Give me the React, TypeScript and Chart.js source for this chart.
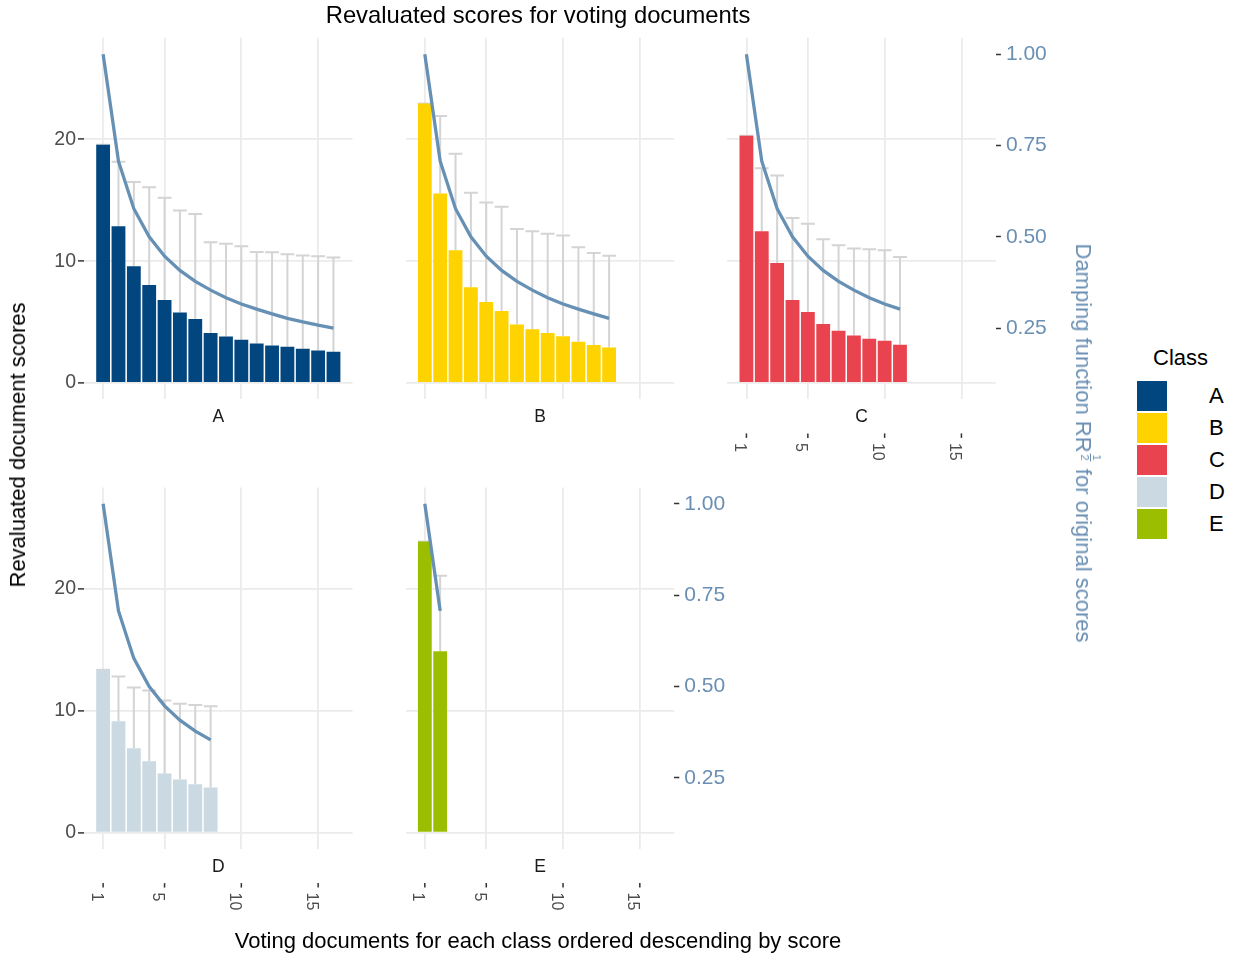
import React, { useEffect, useRef } from "react";
import { Chart, registerables } from "chart.js";

Chart.register(...registerables);

const FONT = '"Liberation Sans", Arial, Helvetica, sans-serif';

// Classes and their fill colours
const classNames = ["A", "B", "C", "D", "E"];
const classColors = ["#02467f", "#ffd300", "#e8434e", "#cbd9e2", "#9bbf00"];

// Revaluated document scores (bar heights), ordered by rank
const scoresA = [19.56, 12.86, 9.59, 8.04, 6.81, 5.78, 5.26, 4.11, 3.81, 3.54, 3.24, 3.08, 2.97, 2.81, 2.67, 2.56];
const scoresB = [22.94, 15.56, 10.9, 7.85, 6.65, 5.91, 4.8, 4.41, 4.11, 3.84, 3.38, 3.11, 2.92];
const scoresC = [20.3, 12.45, 9.84, 6.81, 5.83, 4.85, 4.28, 3.9, 3.62, 3.46, 3.13];
const scoresD = [13.37, 9.14, 6.93, 5.87, 4.86, 4.37, 3.98, 3.71];
const scoresE = [23.9, 14.9];

// Original scores (top of the grey whiskers)
const originalA = [19.56, 18.17, 16.51, 16.08, 15.2, 14.17, 13.87, 11.55, 11.44, 11.23, 10.76, 10.74, 10.57, 10.46, 10.41, 10.3];
const originalB = [22.94, 21.93, 18.83, 15.61, 14.82, 14.47, 12.64, 12.45, 12.26, 12.1, 11.14, 10.68, 10.44];
const originalC = [20.3, 17.63, 17.03, 13.54, 13.08, 11.8, 11.31, 11.04, 10.98, 10.9, 10.35];
const originalD = [13.37, 12.82, 11.92, 11.68, 10.86, 10.59, 10.48, 10.37];
const originalE = [23.9, 21.09];

// Damping factor per rank (secondary axis)
const damping = [1.0, 0.707, 0.577, 0.5, 0.447, 0.408, 0.378, 0.354, 0.333, 0.316, 0.302, 0.289, 0.277, 0.267, 0.258, 0.25];

// Axis ticks and ranges
const xTicks = [1, 5, 10, 15];
const yTicks = [0, 10, 20];
const dampTicks = [0.25, 0.5, 0.75, 1.0];
const X_MIN = -0.245;
const X_MAX = 17.245;
const Y_MIN = -1.35;
const Y_MAX = 28.35;
// secondary axis: damping = (score + SEC_SHIFT) / SEC_SCALE
const SEC_SCALE = 30;
const SEC_SHIFT = 3;

const LINE_COLOR = "#6690b4";
const SEC_TEXT = "#6a8fb3";
const GRID = "#ebebeb";
const WHISKER = "#d4d4d4";

const PANEL_W = 268.6;
const PANEL_H = 361.7;
const CANVAS_W = 420;
const CANVAS_H = 470;

type PanelProps = {
  name: string;
  scores: number[];
  original: number[];
  color: string;
  left: number;
  top: number;
  showLeft: boolean;
  showRight: boolean;
  showX: boolean;
};

function Panel(p: PanelProps) {
  const ref = useRef<HTMLCanvasElement>(null);
  const canvasLeft = Math.floor(p.left - 70);
  const canvasTop = Math.floor(p.top - 20);

  useEffect(() => {
    const canvas = ref.current!;
    const padL = p.left - canvasLeft;
    const padT = p.top - canvasTop;
    const padR = CANVAS_W - padL - PANEL_W;
    const padB = CANVAS_H - padT - PANEL_H;

    const decor = {
      id: "panelDecor",
      // whiskers sit beneath the bars, the damping line above both
      beforeDatasetDraw(chart: any, args: any) {
        if (args.index !== 0) return;
        const ctx = chart.ctx;
        const xs = chart.scales.x;
        const ys = chart.scales.y;
        const half = (xs.getPixelForValue(1.45) - xs.getPixelForValue(0.55)) / 2;
        ctx.save();
        ctx.strokeStyle = WHISKER;
        ctx.lineWidth = 2;
        p.original.forEach((o, i) => {
          const x = xs.getPixelForValue(i + 1);
          const y0 = ys.getPixelForValue(p.scores[i]);
          const y1 = ys.getPixelForValue(o);
          ctx.beginPath();
          ctx.moveTo(x, y0);
          ctx.lineTo(x, y1);
          ctx.moveTo(x - half, y1);
          ctx.lineTo(x + half, y1);
          ctx.stroke();
        });
        ctx.restore();
      },
      afterDraw(chart: any) {
        const ctx = chart.ctx;
        const area = chart.chartArea;
        const xs = chart.scales.x;
        ctx.save();
        ctx.fillStyle = "#1a1a1a";
        ctx.font = `17.5px ${FONT}`;
        ctx.textAlign = "center";
        ctx.textBaseline = "middle";
        ctx.fillText(p.name, (area.left + area.right) / 2, area.bottom + 18);
        if (p.showX) {
          ctx.strokeStyle = "#333333";
          ctx.lineWidth = 1.5;
          ctx.fillStyle = "#4d4d4d";
          ctx.font = `16px ${FONT}`;
          ctx.textAlign = "left";
          ctx.textBaseline = "top";
          xTicks.forEach((v) => {
            const x = xs.getPixelForValue(v);
            ctx.beginPath();
            ctx.moveTo(x, area.bottom + 34);
            ctx.lineTo(x, area.bottom + 38.5);
            ctx.stroke();
            ctx.save();
            ctx.translate(x + 1, area.bottom + 43.5);
            ctx.rotate(Math.PI / 2);
            ctx.fillText(String(v), 0, 0);
            ctx.restore();
          });
        }
        ctx.restore();
      },
    };

    const chart = new Chart(canvas, {
      type: "bar",
      data: {
        datasets: [
          {
            type: "bar",
            data: p.scores.map((v, i) => ({ x: i + 1, y: v })),
            backgroundColor: p.color,
            borderWidth: 0,
            barPercentage: 0.9,
            categoryPercentage: 1,
            xAxisID: "x",
            yAxisID: "y",
            order: 1,
          } as any,
          {
            type: "line",
            data: damping.slice(0, p.scores.length).map((v, i) => ({ x: i + 1, y: v })),
            borderColor: LINE_COLOR,
            borderWidth: 3.3,
            pointRadius: 0,
            tension: 0,
            fill: false,
            xAxisID: "x",
            yAxisID: "y2",
            order: 0,
          } as any,
        ],
      },
      options: {
        responsive: false,
        maintainAspectRatio: false,
        animation: false,
        devicePixelRatio: 1,
        events: [],
        layout: { padding: { top: padT, left: 0, right: 0, bottom: 0 } },
        plugins: { legend: { display: false }, tooltip: { enabled: false } },
        scales: {
          x: {
            type: "linear",
            min: X_MIN,
            max: X_MAX,
            offset: false,
            afterBuildTicks: (s: any) => {
              s.ticks = xTicks.map((v) => ({ value: v }));
            },
            afterFit: (s: any) => {
              s.height = padB;
            },
            grid: { color: GRID, lineWidth: 1.8, drawTicks: false, offset: false },
            border: { display: false },
            ticks: { display: false },
          },
          y: {
            type: "linear",
            position: "left",
            min: Y_MIN,
            max: Y_MAX,
            afterBuildTicks: (s: any) => {
              s.ticks = yTicks.map((v) => ({ value: v }));
            },
            afterFit: (s: any) => {
              s.width = padL;
            },
            grid: {
              color: GRID,
              lineWidth: 1.8,
              drawTicks: p.showLeft,
              tickLength: 6,
              tickColor: "#333333",
              tickWidth: 1.5,
            },
            border: { display: false },
            ticks: {
              display: p.showLeft,
              padding: 2,
              color: "#4d4d4d",
              font: { family: FONT, size: 19.5 },
            },
          },
          y2: {
            type: "linear",
            position: "right",
            min: (Y_MIN + SEC_SHIFT) / SEC_SCALE,
            max: (Y_MAX + SEC_SHIFT) / SEC_SCALE,
            afterBuildTicks: (s: any) => {
              s.ticks = dampTicks.map((v) => ({ value: v }));
            },
            afterFit: (s: any) => {
              s.width = padR;
            },
            grid: {
              display: p.showRight,
              drawOnChartArea: false,
              drawTicks: true,
              tickLength: 5,
              tickColor: "#333333",
              tickWidth: 1.5,
            },
            border: { display: false },
            ticks: {
              display: p.showRight,
              padding: 5,
              color: SEC_TEXT,
              font: { family: FONT, size: 21 },
              callback: (v: any) => Number(v).toFixed(2),
            },
          },
        },
      } as any,
      plugins: [decor],
    });
    return () => chart.destroy();
  }, []);

  return (
    <canvas
      ref={ref}
      width={CANVAS_W}
      height={CANVAS_H}
      style={{
        position: "absolute",
        left: canvasLeft,
        top: canvasTop,
        width: CANVAS_W,
        height: CANVAS_H,
      }}
    />
  );
}

const colLeft = [84.0, 405.7, 727.3];
const rowTop = [37.7, 487.4];

export default function App() {
  const text: React.CSSProperties = {
    position: "absolute",
    fontFamily: FONT,
    whiteSpace: "nowrap",
    lineHeight: 1,
  };
  return (
    <div
      style={{
        position: "absolute",
        left: 0,
        top: 0,
        width: 1236,
        height: 959,
        background: "#ffffff",
        overflow: "hidden",
      }}
    >
      <Panel name="A" scores={scoresA} original={originalA} color={classColors[0]} left={colLeft[0]} top={rowTop[0]} showLeft showRight={false} showX={false} />
      <Panel name="B" scores={scoresB} original={originalB} color={classColors[1]} left={colLeft[1]} top={rowTop[0]} showLeft={false} showRight={false} showX={false} />
      <Panel name="C" scores={scoresC} original={originalC} color={classColors[2]} left={colLeft[2]} top={rowTop[0]} showLeft={false} showRight showX />
      <Panel name="D" scores={scoresD} original={originalD} color={classColors[3]} left={colLeft[0]} top={rowTop[1]} showLeft showRight={false} showX />
      <Panel name="E" scores={scoresE} original={originalE} color={classColors[4]} left={colLeft[1]} top={rowTop[1]} showLeft={false} showRight showX />

      <div style={{ ...text, left: 538, top: 15, fontSize: 23.8, color: "#000", transform: "translate(-50%,-50%)" }}>
        Revaluated scores for voting documents
      </div>
      <div style={{ ...text, left: 538, top: 941, fontSize: 22, color: "#000", transform: "translate(-50%,-50%)" }}>
        Voting documents for each class ordered descending by score
      </div>
      <div style={{ ...text, left: 18, top: 445, fontSize: 22, color: "#000", transform: "translate(-50%,-50%) rotate(-90deg)" }}>
        Revaluated document scores
      </div>
      <div style={{ ...text, left: 1087, top: 443, fontSize: 22, color: SEC_TEXT, transform: "translate(-50%,-50%) rotate(90deg)" }}>
        Damping function RR
        <span
          style={{
            display: "inline-block",
            fontSize: 11,
            lineHeight: 1,
            textAlign: "center",
            verticalAlign: 5,
            margin: "0 1px",
          }}
        >
          <span style={{ display: "block", borderBottom: `1px solid ${SEC_TEXT}`, padding: "0 1px" }}>1</span>
          <span style={{ display: "block" }}>2</span>
        </span>{" "}
        for original scores
      </div>

      <div style={{ ...text, left: 1153, top: 358, fontSize: 22, color: "#000", transform: "translateY(-50%)" }}>Class</div>
      {classNames.map((c, i) => (
        <React.Fragment key={c}>
          <div
            style={{
              position: "absolute",
              left: 1137,
              top: 381 + i * 32,
              width: 30,
              height: 30,
              background: classColors[i],
            }}
          />
          <div style={{ ...text, left: 1209, top: 396 + i * 32, fontSize: 22, color: "#000", transform: "translateY(-50%)" }}>{c}</div>
        </React.Fragment>
      ))}
    </div>
  );
}
